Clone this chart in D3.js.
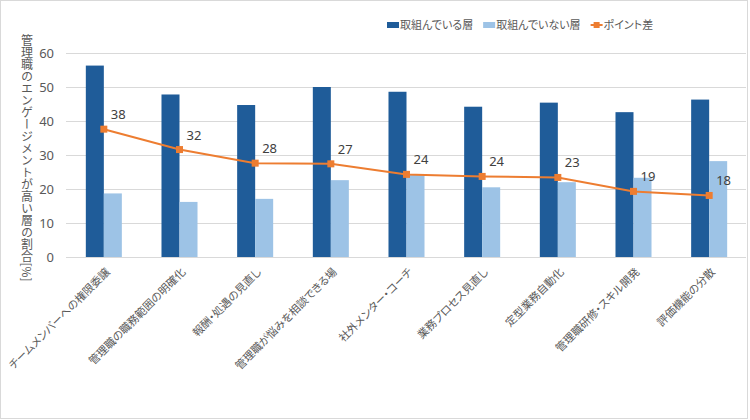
<!DOCTYPE html>
<html>
<head>
<meta charset="utf-8">
<script src="https://cdn.jsdelivr.net/npm/d3@7"></script>
<style>
  html, body { margin: 0; padding: 0; background: #fff; }
  svg { display: block; }
  .jp { font-family: "Noto Sans CJK JP", "Noto Sans", sans-serif; font-feature-settings: "palt"; }
  .num { font-family: "Noto Sans", "DejaVu Sans", sans-serif; }
</style>
</head>
<body>
<svg id="chart" width="750" height="420"></svg>
<script>
// ---- data ----
const categories = [
  "チームメンバーへの権限委譲",
  "管理職の職務範囲の明確化",
  "報酬・処遇の見直し",
  "管理職が悩みを相談できる場",
  "社外メンター・コーチ",
  "業務プロセス見直し",
  "定型業務自動化",
  "管理職研修・スキル開発",
  "評価機能の分散"
];
const engaged    = [56.3, 47.8, 44.7, 50.0, 48.6, 44.2, 45.4, 42.6, 46.3];
const notEngaged = [18.7, 16.2, 17.1, 22.6, 24.3, 20.5, 22.0, 23.3, 28.2];
const pointDiff  = [37.6, 31.6, 27.6, 27.4, 24.3, 23.7, 23.4, 19.3, 18.1];
const yTicks = [0, 10, 20, 30, 40, 50, 60];
const seriesNames = ["取組んでいる層", "取組んでいない層", "ポイント差"];
const yTitle = "管理職のエンゲージメントが高い層の割合[%]";

// ---- styles ----
const C_DARK = "#1F5C99", C_LIGHT = "#9DC3E6", C_ORANGE = "#ED7D31";
const C_TEXT = "#595959", C_GRID = "#D9D9D9";

const svg = d3.select("#chart");

// chart border
svg.append("rect").attr("x", 0.5).attr("y", 0.5).attr("width", 747).attr("height", 418)
  .attr("fill", "#fff").attr("stroke", C_GRID);

const x = d3.scaleBand().domain(categories).range([66, 747]);
const y = d3.scaleLinear().domain([0, 60]).range([257, 53]);
const cx = d => x(d) + x.bandwidth() / 2;
const bw = x.bandwidth() * 0.238;

// gridlines
svg.append("g").selectAll("line").data(yTicks).join("line")
  .attr("x1", 66).attr("x2", 746)
  .attr("y1", d => Math.round(y(d)) + 0.5).attr("y2", d => Math.round(y(d)) + 0.5)
  .attr("stroke", C_GRID).attr("stroke-width", 1);

// y axis via d3.axisLeft
const yAxis = svg.append("g").attr("transform", "translate(54,0)")
  .call(d3.axisLeft(y).tickValues(yTicks).tickSize(0).tickPadding(0));
yAxis.select(".domain").remove();
yAxis.selectAll("text").attr("class", "num").attr("fill", C_TEXT).style("font-size", "13px");

// y title (vertical writing)
svg.append("text").attr("class", "jp")
  .attr("x", 27).attr("y", 158)
  .attr("text-anchor", "middle")
  .style("writing-mode", "vertical-rl")
  .style("font-feature-settings", "normal")
  .style("font-size", "12px")
  .attr("fill", C_TEXT)
  .text(yTitle);

// bars
svg.append("g").selectAll("rect").data(categories).join("rect")
  .attr("x", d => cx(d) - bw).attr("width", bw)
  .attr("y", (d, i) => y(engaged[i])).attr("height", (d, i) => y(0) - y(engaged[i]))
  .attr("fill", C_DARK);
svg.append("g").selectAll("rect").data(categories).join("rect")
  .attr("x", d => cx(d)).attr("width", bw)
  .attr("y", (d, i) => y(notEngaged[i])).attr("height", (d, i) => y(0) - y(notEngaged[i]))
  .attr("fill", C_LIGHT);

// x axis labels
const xAxis = svg.append("g").attr("transform", "translate(0,257)")
  .call(d3.axisBottom(x).tickSize(0).tickPadding(0));
xAxis.select(".domain").remove();
xAxis.selectAll(".tick text")
  .attr("class", "jp")
  .attr("fill", C_TEXT)
  .style("font-size", "11px")
  .attr("text-anchor", "end")
  .attr("y", 0).attr("dy", "0.35em")
  .attr("transform", "translate(4,13) rotate(-45)");

// line
const line = d3.line().x((d, i) => cx(categories[i])).y(d => y(d));
svg.append("path").datum(pointDiff).attr("d", line)
  .attr("fill", "none").attr("stroke", C_ORANGE).attr("stroke-width", 2);
svg.append("g").selectAll("rect").data(pointDiff).join("rect")
  .attr("x", (d, i) => cx(categories[i]) - 3.5).attr("y", d => y(d) - 3.5)
  .attr("width", 7).attr("height", 7).attr("fill", C_ORANGE);
svg.append("g").selectAll("text").data(pointDiff).join("text")
  .attr("class", "num")
  .attr("x", (d, i) => cx(categories[i]) + 7).attr("y", d => y(d) - 10)
  .attr("fill", "#404040").style("font-size", "13px")
  .text(d => d3.format(".0f")(d));

// legend
const lg = svg.append("g").attr("class", "jp").style("font-size", "11px").attr("fill", C_TEXT);
let lx = 387;
[[C_DARK, "bar"], [C_LIGHT, "bar"], [C_ORANGE, "line"]].forEach(([col, type], i) => {
  if (type === "bar") {
    lg.append("rect").attr("x", lx).attr("y", 22).attr("width", 12).attr("height", 6).attr("fill", col);
  } else {
    lg.append("line").attr("x1", lx).attr("x2", lx + 12).attr("y1", 25).attr("y2", 25)
      .attr("stroke", col).attr("stroke-width", 2);
    lg.append("rect").attr("x", lx + 3).attr("y", 22).attr("width", 6).attr("height", 6).attr("fill", col);
  }
  const t = lg.append("text").attr("x", lx + 13).attr("y", 25).attr("dy", "0.35em").text(seriesNames[i]);
  lx += 13 + t.node().getComputedTextLength() + 10;
});
</script>
</body>
</html>
